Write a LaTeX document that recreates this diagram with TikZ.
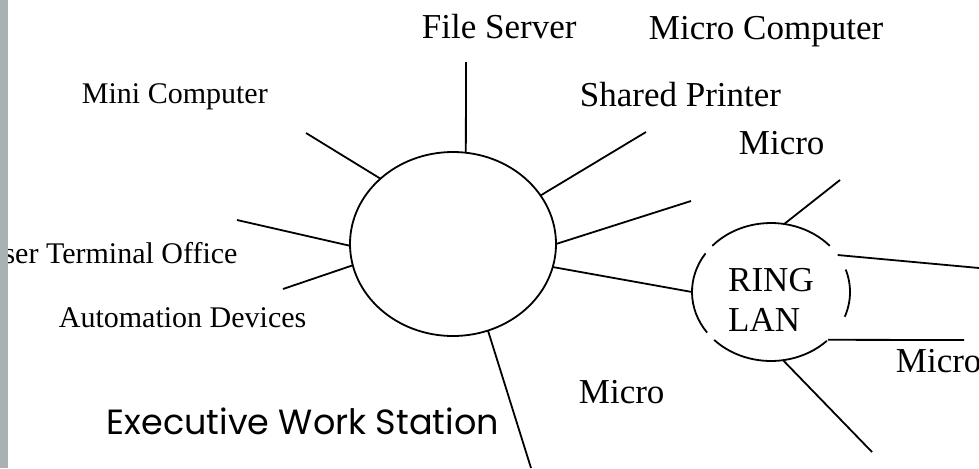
\documentclass[tikz,border=0pt]{standalone}
\usepackage{fontspec}
\setmainfont{Liberation Serif}
\newfontfamily\handfont{Poppins}
\usetikzlibrary{shapes.geometric}
\definecolor{stripgrey}{HTML}{A9B1B4}
\begin{document}
\begin{tikzpicture}[x=0.5pt,y=0.5pt,line width=0.9pt,
  big/.style={anchor=base west,inner sep=0,font=\fontsize{17.5}{20}\selectfont},
  small/.style={anchor=base west,inner sep=0,font=\fontsize{15}{18}\selectfont},
  hand/.style={anchor=base west,inner sep=0,font=\handfont\fontsize{17.5}{20}\selectfont},
  blob/.style={ellipse,inner sep=0,outer sep=0}]
  \useasboundingbox (0,0) rectangle (979,468);
  \node (hub) [blob,draw,minimum width=103pt,minimum height=92pt] at (453,224) {};
  \node (ring) [blob,minimum width=79pt,minimum height=69pt] at (771,176) {};
  \node (ringtxt) [align=left,inner sep=0,font=\fontsize{17.5}{20}\selectfont] at ([yshift=-4pt]ring.center) {RING\\LAN};
  \node (fs) [big] at (421,430) {File Server};
  \node (mc) [big] at (648,429) {Micro Computer};
  \node (mini) [small] at (81,365) {Mini Computer};
  \node (sp) [big] at (579,362) {Shared Printer};
  \node (microa) [big] at (738,314) {Micro};
  \node (ut) [small] at (-19,205) {User Terminal Office};
  \node (ad) [small] at (58,141) {Automation Devices};
  \node (ews) [hand] at (106,34) {Executive Work Station};
  \node (microb) [big] at (578,65) {Micro};
  \node (microc) [big] at (895,96) {Micro};
  \coordinate (fsend) at (466,406);
  \coordinate (miniend) at (306,335);
  \coordinate (utend) at (237,248);
  \coordinate (adend) at (283,179);
  \coordinate (ewsend) at (531,0);
  \coordinate (spend) at (646,336);
  \coordinate (freeend) at (691,267);
  \coordinate (rtop) at (840,288);
  \coordinate (rright) at (979,200);
  \coordinate (rlow) at (964,128);
  \coordinate (rbot) at (872,16);
  \draw (hub.82)--(fsend);
  \draw (hub.138)--(miniend);
  \draw (hub.181)--(utend);
  \draw (hub.192)--(adend);
  \draw (hub.-68)--(ewsend);
  \draw (hub.29)--(spend);
  \draw (hub.0)--(freeend);
  \draw (hub.-13)--(ring.180);
  \draw (ring.79)--(rtop);
  \draw (ring.29)--(rright);
  \draw (ring.-40)--(rlow);
  \draw (ring.-80)--(rbot);
  \foreach \a/\b in {42/138,146/216,224/315,339/379}
    \draw (ring.center) ++(\a:39.5pt and 34.5pt) arc[start angle=\a,end angle=\b,x radius=39.5pt,y radius=34.5pt];
  \fill[stripgrey] (0,0) rectangle (8,468);
\end{tikzpicture}
\end{document}
